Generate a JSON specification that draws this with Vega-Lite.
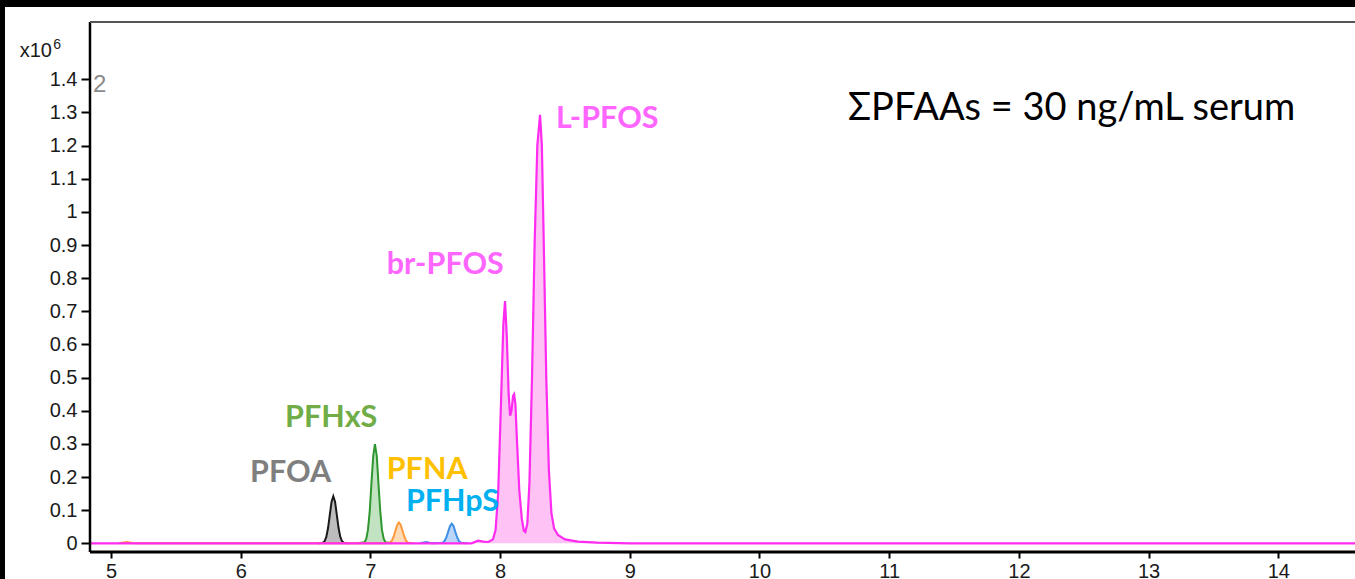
{
  "$schema": "https://vega.github.io/schema/vega-lite/v6.json",
  "width": 1350,
  "height": 572,
  "autosize": {"type": "none"},
  "padding": {"left": 5, "top": 7, "right": 0, "bottom": 0},
  "background": "black",
  "config": {
    "view": {"fill": "white", "stroke": null},
    "axis": {"grid": false, "domain": false, "tickColor": "black", "tickWidth": 2, "labelFont": "Liberation Sans", "labelFontSize": 20, "labelColor": "#1a1a1a", "title": null}
  },
  "datasets": {
    "peaks": [
      {"series": "PFOA", "t": 6.60, "v": 0},
      {"series": "PFOA", "t": 6.633, "v": 0.0016},
      {"series": "PFOA", "t": 6.6465, "v": 0.0062},
      {"series": "PFOA", "t": 6.66, "v": 0.0192},
      {"series": "PFOA", "t": 6.6735, "v": 0.0461},
      {"series": "PFOA", "t": 6.687, "v": 0.0861},
      {"series": "PFOA", "t": 6.7005, "v": 0.1253},
      {"series": "PFOA", "t": 6.714, "v": 0.142},
      {"series": "PFOA", "t": 6.7275, "v": 0.1253},
      {"series": "PFOA", "t": 6.741, "v": 0.0861},
      {"series": "PFOA", "t": 6.7545, "v": 0.0461},
      {"series": "PFOA", "t": 6.768, "v": 0.0192},
      {"series": "PFOA", "t": 6.7815, "v": 0.0062},
      {"series": "PFOA", "t": 6.795, "v": 0.0016},
      {"series": "PFOA", "t": 6.83, "v": 0},
      {"series": "PFHxS", "t": 6.90, "v": 0},
      {"series": "PFHxS", "t": 6.954, "v": 0.0033},
      {"series": "PFHxS", "t": 6.968, "v": 0.0131},
      {"series": "PFHxS", "t": 6.981, "v": 0.0405},
      {"series": "PFHxS", "t": 6.995, "v": 0.0971},
      {"series": "PFHxS", "t": 7.008, "v": 0.1813},
      {"series": "PFHxS", "t": 7.022, "v": 0.2639},
      {"series": "PFHxS", "t": 7.035, "v": 0.299},
      {"series": "PFHxS", "t": 7.049, "v": 0.2639},
      {"series": "PFHxS", "t": 7.062, "v": 0.1813},
      {"series": "PFHxS", "t": 7.076, "v": 0.0971},
      {"series": "PFHxS", "t": 7.089, "v": 0.0405},
      {"series": "PFHxS", "t": 7.103, "v": 0.0131},
      {"series": "PFHxS", "t": 7.116, "v": 0.0033},
      {"series": "PFHxS", "t": 7.17, "v": 0},
      {"series": "PFNA", "t": 5.06, "v": 0},
      {"series": "PFNA", "t": 5.12, "v": 0.004},
      {"series": "PFNA", "t": 5.18, "v": 0},
      {"series": "PFNA", "t": 7.12, "v": 0},
      {"series": "PFNA", "t": 7.139, "v": 0.0007},
      {"series": "PFNA", "t": 7.153, "v": 0.0028},
      {"series": "PFNA", "t": 7.166, "v": 0.0085},
      {"series": "PFNA", "t": 7.18, "v": 0.0205},
      {"series": "PFNA", "t": 7.193, "v": 0.0382},
      {"series": "PFNA", "t": 7.207, "v": 0.0556},
      {"series": "PFNA", "t": 7.22, "v": 0.063},
      {"series": "PFNA", "t": 7.234, "v": 0.0556},
      {"series": "PFNA", "t": 7.247, "v": 0.0382},
      {"series": "PFNA", "t": 7.261, "v": 0.0205},
      {"series": "PFNA", "t": 7.274, "v": 0.0085},
      {"series": "PFNA", "t": 7.288, "v": 0.0028},
      {"series": "PFNA", "t": 7.301, "v": 0.0007},
      {"series": "PFNA", "t": 7.33, "v": 0},
      {"series": "PFHpS", "t": 7.38, "v": 0},
      {"series": "PFHpS", "t": 7.43, "v": 0.004},
      {"series": "PFHpS", "t": 7.47, "v": 0},
      {"series": "PFHpS", "t": 7.546, "v": 0.0007},
      {"series": "PFHpS", "t": 7.56, "v": 0.0026},
      {"series": "PFHpS", "t": 7.573, "v": 0.008},
      {"series": "PFHpS", "t": 7.587, "v": 0.0192},
      {"series": "PFHpS", "t": 7.6, "v": 0.0358},
      {"series": "PFHpS", "t": 7.614, "v": 0.0521},
      {"series": "PFHpS", "t": 7.627, "v": 0.059},
      {"series": "PFHpS", "t": 7.641, "v": 0.0521},
      {"series": "PFHpS", "t": 7.654, "v": 0.0358},
      {"series": "PFHpS", "t": 7.668, "v": 0.0192},
      {"series": "PFHpS", "t": 7.681, "v": 0.008},
      {"series": "PFHpS", "t": 7.695, "v": 0.0026},
      {"series": "PFHpS", "t": 7.708, "v": 0.0007},
      {"series": "PFHpS", "t": 7.75, "v": 0}
    ],
    "pfos": [
      {"series": "PFOS", "t": 4.838, "v": 0},
      {"series": "PFOS", "t": 7.78, "v": 0},
      {"series": "PFOS", "t": 7.83, "v": 0.008},
      {"series": "PFOS", "t": 7.87, "v": 0.005},
      {"series": "PFOS", "t": 7.91, "v": 0.004},
      {"series": "PFOS", "t": 7.945, "v": 0.012},
      {"series": "PFOS", "t": 7.965, "v": 0.04},
      {"series": "PFOS", "t": 7.985, "v": 0.15},
      {"series": "PFOS", "t": 8.005, "v": 0.40},
      {"series": "PFOS", "t": 8.025, "v": 0.66},
      {"series": "PFOS", "t": 8.038, "v": 0.731},
      {"series": "PFOS", "t": 8.052, "v": 0.62},
      {"series": "PFOS", "t": 8.066, "v": 0.45},
      {"series": "PFOS", "t": 8.077, "v": 0.385},
      {"series": "PFOS", "t": 8.088, "v": 0.40},
      {"series": "PFOS", "t": 8.1, "v": 0.445},
      {"series": "PFOS", "t": 8.108, "v": 0.45},
      {"series": "PFOS", "t": 8.118, "v": 0.42},
      {"series": "PFOS", "t": 8.13, "v": 0.31},
      {"series": "PFOS", "t": 8.148, "v": 0.16},
      {"series": "PFOS", "t": 8.167, "v": 0.075},
      {"series": "PFOS", "t": 8.183, "v": 0.038},
      {"series": "PFOS", "t": 8.195, "v": 0.034},
      {"series": "PFOS", "t": 8.21, "v": 0.06},
      {"series": "PFOS", "t": 8.226, "v": 0.18},
      {"series": "PFOS", "t": 8.246, "v": 0.50},
      {"series": "PFOS", "t": 8.266, "v": 0.90},
      {"series": "PFOS", "t": 8.287, "v": 1.20},
      {"series": "PFOS", "t": 8.308, "v": 1.293},
      {"series": "PFOS", "t": 8.322, "v": 1.20},
      {"series": "PFOS", "t": 8.337, "v": 0.90},
      {"series": "PFOS", "t": 8.356, "v": 0.50},
      {"series": "PFOS", "t": 8.376, "v": 0.22},
      {"series": "PFOS", "t": 8.396, "v": 0.09},
      {"series": "PFOS", "t": 8.416, "v": 0.045},
      {"series": "PFOS", "t": 8.446, "v": 0.025},
      {"series": "PFOS", "t": 8.5, "v": 0.012},
      {"series": "PFOS", "t": 8.6, "v": 0.005},
      {"series": "PFOS", "t": 8.75, "v": 0.002},
      {"series": "PFOS", "t": 9.0, "v": 0},
      {"series": "PFOS", "t": 14.5914, "v": 0}
    ],
    "labels": [
      {"series": "PFOA", "label": "PFOA", "t": 6.072, "v": 0.185},
      {"series": "PFHxS", "label": "PFHxS", "t": 6.342, "v": 0.351},
      {"series": "PFNA", "label": "PFNA", "t": 7.126, "v": 0.194},
      {"series": "PFHpS", "label": "PFHpS", "t": 7.274, "v": 0.098},
      {"series": "PFOS", "label": "br-PFOS", "t": 7.126, "v": 0.812},
      {"series": "PFOS", "label": "L-PFOS", "t": 8.431, "v": 1.252}
    ]
  },
  "layer": [
    {
      "data": {"name": "peaks"},
      "mark": {"type": "area", "interpolate": "linear"},
      "encoding": {
        "x": {"field": "t", "type": "quantitative", "scale": {"domain": [4.1827, 14.5914], "nice": false, "zero": false}, "axis": {"orient": "bottom", "offset": -27, "tickSize": 6, "labelPadding": 3, "values": [5, 6, 7, 8, 9, 10, 11, 12, 13, 14], "labelExpr": "format(datum.value, '~g')"}},
        "y": {"field": "v", "type": "quantitative", "scale": {"domain": [-0.1077, 1.6183], "nice": false, "zero": false}, "axis": {"orient": "left", "offset": -85, "tickSize": 9, "labelPadding": 4, "values": [0, 0.1, 0.2, 0.3, 0.4, 0.5, 0.6, 0.7, 0.8, 0.9, 1, 1.1, 1.2, 1.3, 1.4], "labelExpr": "format(datum.value, '~g')"}},
        "y2": {"datum": 0},
        "fill": {"field": "series", "type": "nominal", "legend": null, "scale": {"domain": ["PFOA", "PFHxS", "PFNA", "PFHpS", "PFOS"], "range": ["#bdbdbd", "#c2e3c2", "#ffdcb8", "#bcd6f7", "#ffc2f5"]}}
      }
    },
    {
      "data": {"name": "peaks"},
      "mark": {"type": "line", "strokeWidth": 2},
      "encoding": {
        "x": {"field": "t", "type": "quantitative"},
        "y": {"field": "v", "type": "quantitative"},
        "stroke": {"field": "series", "type": "nominal", "legend": null, "scale": {"domain": ["PFOA", "PFHxS", "PFNA", "PFHpS", "PFOS"], "range": ["#1a1a1a", "#2e962e", "#ff9a3c", "#3d8fe6", "#ff2bf0"]}}
      }
    },
    {
      "data": {"name": "pfos"},
      "mark": {"type": "area"},
      "encoding": {
        "x": {"field": "t", "type": "quantitative"},
        "y": {"field": "v", "type": "quantitative"},
        "y2": {"datum": 0},
        "fill": {"field": "series", "type": "nominal", "legend": null}
      }
    },
    {
      "data": {"name": "pfos"},
      "mark": {"type": "line", "strokeWidth": 2.2},
      "encoding": {
        "x": {"field": "t", "type": "quantitative"},
        "y": {"field": "v", "type": "quantitative"},
        "stroke": {"field": "series", "type": "nominal", "legend": null}
      }
    },
    {
      "data": {"values": [{}]},
      "mark": {"type": "rule", "color": "black", "strokeWidth": 2.5},
      "encoding": {"x": {"datum": 4.838}, "y": {"datum": -0.0263}, "y2": {"datum": 1.573}}
    },
    {
      "data": {"values": [{}]},
      "mark": {"type": "rule", "color": "black", "strokeWidth": 3},
      "encoding": {"x": {"datum": 4.838}, "x2": {"datum": 14.5914}, "y": {"datum": -0.0263}}
    },
    {
      "data": {"values": [{}]},
      "mark": {"type": "rule", "color": "#555555", "strokeWidth": 2},
      "encoding": {"x": {"datum": 4.838}, "x2": {"datum": 14.5914}, "y": {"datum": 1.573}}
    },
    {
      "data": {"name": "labels"},
      "mark": {"type": "text", "align": "left", "baseline": "alphabetic", "font": "Lato", "fontWeight": "bold", "fontSize": 30.5},
      "encoding": {
        "x": {"field": "t", "type": "quantitative"},
        "y": {"field": "v", "type": "quantitative"},
        "text": {"field": "label"},
        "color": {"field": "series", "type": "nominal", "legend": null, "scale": {"domain": ["PFOA", "PFHxS", "PFNA", "PFHpS", "PFOS"], "range": ["#7f7f7f", "#70ad47", "#ffc000", "#00b0f0", "#ff66ff"]}}
      }
    },
    {
      "data": {"values": [{"label": "ΣPFAAs = 30 ng/mL serum", "t": 10.682, "v": 1.277}]},
      "mark": {"type": "text", "align": "left", "baseline": "alphabetic", "font": "Lato", "fontSize": 38, "color": "black"},
      "encoding": {"x": {"field": "t", "type": "quantitative"}, "y": {"field": "v", "type": "quantitative"}, "text": {"field": "label"}}
    },
    {
      "data": {"values": [{"label": "x10", "t": 4.545, "v": 1.467}]},
      "mark": {"type": "text", "align": "right", "baseline": "alphabetic", "font": "Liberation Sans", "fontSize": 20, "color": "#1a1a1a"},
      "encoding": {"x": {"field": "t", "type": "quantitative"}, "y": {"field": "v", "type": "quantitative"}, "text": {"field": "label"}}
    },
    {
      "data": {"values": [{"label": "6", "t": 4.555, "v": 1.491}]},
      "mark": {"type": "text", "align": "left", "baseline": "alphabetic", "font": "Liberation Sans", "fontSize": 14, "color": "#1a1a1a"},
      "encoding": {"x": {"field": "t", "type": "quantitative"}, "y": {"field": "v", "type": "quantitative"}, "text": {"field": "label"}}
    },
    {
      "data": {"values": [{"label": "2", "t": 4.861, "v": 1.362}]},
      "mark": {"type": "text", "align": "left", "baseline": "alphabetic", "font": "Liberation Sans", "fontSize": 24, "color": "#8a8a8a"},
      "encoding": {"x": {"field": "t", "type": "quantitative"}, "y": {"field": "v", "type": "quantitative"}, "text": {"field": "label"}}
    }
  ]
}
